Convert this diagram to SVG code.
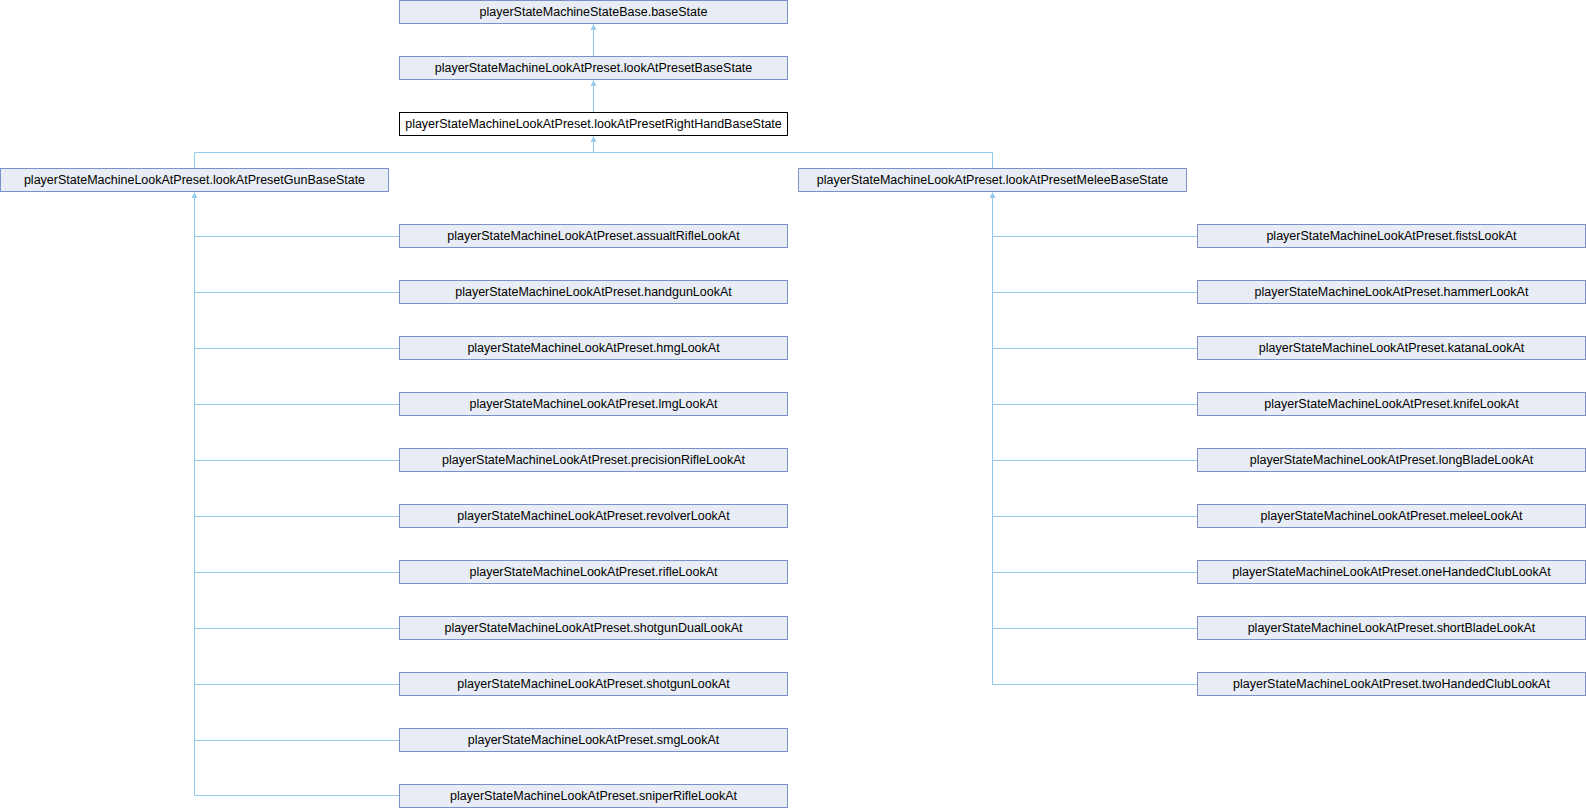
<svg xmlns="http://www.w3.org/2000/svg" width="1586" height="808" viewBox="0 0 1586 808">
<style>
.n rect{fill:#E8ECF5;stroke:#7A92C9;stroke-width:1}
.n.cur rect{fill:#FFFFFF;stroke:#000000}
.n text{font-family:"Liberation Sans",Arial,sans-serif;font-size:12.5px;fill:#000;text-anchor:middle}
.e path{fill:none;stroke:#93C9EC;stroke-width:1}
.e path.a{marker-start:url(#a)}
</style>
<defs>
<marker id="a" viewBox="0 0 8 8" refX="7.5" refY="4" markerWidth="8" markerHeight="8" markerUnits="userSpaceOnUse" orient="auto-start-reverse">
<path d="M7.5,4 L2,1 L2,7 Z" fill="#93C9EC" stroke="none"/>
</marker>
</defs>
<g id="connectors" class="e">
<path class="a" d="M593.5,24.5 V56"/>
<path class="a" d="M593.5,80.5 V112"/>
<path class="a" d="M593.5,136.5 V152.5"/>
<path d="M194.5,168 V152.5 H992.5 V168"/>
<path class="a" d="M194.5,192.5 V795.5 H399"/>
<path d="M194.5,236.5 H399 M194.5,292.5 H399 M194.5,348.5 H399 M194.5,404.5 H399 M194.5,460.5 H399 M194.5,516.5 H399 M194.5,572.5 H399 M194.5,628.5 H399 M194.5,684.5 H399 M194.5,740.5 H399"/>
<path class="a" d="M992.5,192.5 V684.5 H1197"/>
<path d="M992.5,236.5 H1197 M992.5,292.5 H1197 M992.5,348.5 H1197 M992.5,404.5 H1197 M992.5,460.5 H1197 M992.5,516.5 H1197 M992.5,572.5 H1197 M992.5,628.5 H1197"/>
</g>
<g id="baseState" class="n"><rect x="399.5" y="0.5" width="388" height="23"/><text x="593.5" y="16">playerStateMachineStateBase.baseState</text></g>
<g id="lookAtPresetBaseState" class="n"><rect x="399.5" y="56.5" width="388" height="23"/><text x="593.5" y="72">playerStateMachineLookAtPreset.lookAtPresetBaseState</text></g>
<g id="lookAtPresetRightHandBaseState" class="n cur"><rect x="399.5" y="112.5" width="388" height="23"/><text x="593.5" y="128">playerStateMachineLookAtPreset.lookAtPresetRightHandBaseState</text></g>
<g id="lookAtPresetGunBaseState" class="n"><rect x="0.5" y="168.5" width="388" height="23"/><text x="194.5" y="184">playerStateMachineLookAtPreset.lookAtPresetGunBaseState</text></g>
<g id="lookAtPresetMeleeBaseState" class="n"><rect x="798.5" y="168.5" width="388" height="23"/><text x="992.5" y="184">playerStateMachineLookAtPreset.lookAtPresetMeleeBaseState</text></g>
<g id="assualtRifleLookAt" class="n"><rect x="399.5" y="224.5" width="388" height="23"/><text x="593.5" y="240">playerStateMachineLookAtPreset.assualtRifleLookAt</text></g>
<g id="handgunLookAt" class="n"><rect x="399.5" y="280.5" width="388" height="23"/><text x="593.5" y="296">playerStateMachineLookAtPreset.handgunLookAt</text></g>
<g id="hmgLookAt" class="n"><rect x="399.5" y="336.5" width="388" height="23"/><text x="593.5" y="352">playerStateMachineLookAtPreset.hmgLookAt</text></g>
<g id="lmgLookAt" class="n"><rect x="399.5" y="392.5" width="388" height="23"/><text x="593.5" y="408">playerStateMachineLookAtPreset.lmgLookAt</text></g>
<g id="precisionRifleLookAt" class="n"><rect x="399.5" y="448.5" width="388" height="23"/><text x="593.5" y="464">playerStateMachineLookAtPreset.precisionRifleLookAt</text></g>
<g id="revolverLookAt" class="n"><rect x="399.5" y="504.5" width="388" height="23"/><text x="593.5" y="520">playerStateMachineLookAtPreset.revolverLookAt</text></g>
<g id="rifleLookAt" class="n"><rect x="399.5" y="560.5" width="388" height="23"/><text x="593.5" y="576">playerStateMachineLookAtPreset.rifleLookAt</text></g>
<g id="shotgunDualLookAt" class="n"><rect x="399.5" y="616.5" width="388" height="23"/><text x="593.5" y="632">playerStateMachineLookAtPreset.shotgunDualLookAt</text></g>
<g id="shotgunLookAt" class="n"><rect x="399.5" y="672.5" width="388" height="23"/><text x="593.5" y="688">playerStateMachineLookAtPreset.shotgunLookAt</text></g>
<g id="smgLookAt" class="n"><rect x="399.5" y="728.5" width="388" height="23"/><text x="593.5" y="744">playerStateMachineLookAtPreset.smgLookAt</text></g>
<g id="sniperRifleLookAt" class="n"><rect x="399.5" y="784.5" width="388" height="23"/><text x="593.5" y="800">playerStateMachineLookAtPreset.sniperRifleLookAt</text></g>
<g id="fistsLookAt" class="n"><rect x="1197.5" y="224.5" width="388" height="23"/><text x="1391.5" y="240">playerStateMachineLookAtPreset.fistsLookAt</text></g>
<g id="hammerLookAt" class="n"><rect x="1197.5" y="280.5" width="388" height="23"/><text x="1391.5" y="296">playerStateMachineLookAtPreset.hammerLookAt</text></g>
<g id="katanaLookAt" class="n"><rect x="1197.5" y="336.5" width="388" height="23"/><text x="1391.5" y="352">playerStateMachineLookAtPreset.katanaLookAt</text></g>
<g id="knifeLookAt" class="n"><rect x="1197.5" y="392.5" width="388" height="23"/><text x="1391.5" y="408">playerStateMachineLookAtPreset.knifeLookAt</text></g>
<g id="longBladeLookAt" class="n"><rect x="1197.5" y="448.5" width="388" height="23"/><text x="1391.5" y="464">playerStateMachineLookAtPreset.longBladeLookAt</text></g>
<g id="meleeLookAt" class="n"><rect x="1197.5" y="504.5" width="388" height="23"/><text x="1391.5" y="520">playerStateMachineLookAtPreset.meleeLookAt</text></g>
<g id="oneHandedClubLookAt" class="n"><rect x="1197.5" y="560.5" width="388" height="23"/><text x="1391.5" y="576">playerStateMachineLookAtPreset.oneHandedClubLookAt</text></g>
<g id="shortBladeLookAt" class="n"><rect x="1197.5" y="616.5" width="388" height="23"/><text x="1391.5" y="632">playerStateMachineLookAtPreset.shortBladeLookAt</text></g>
<g id="twoHandedClubLookAt" class="n"><rect x="1197.5" y="672.5" width="388" height="23"/><text x="1391.5" y="688">playerStateMachineLookAtPreset.twoHandedClubLookAt</text></g>
</svg>
